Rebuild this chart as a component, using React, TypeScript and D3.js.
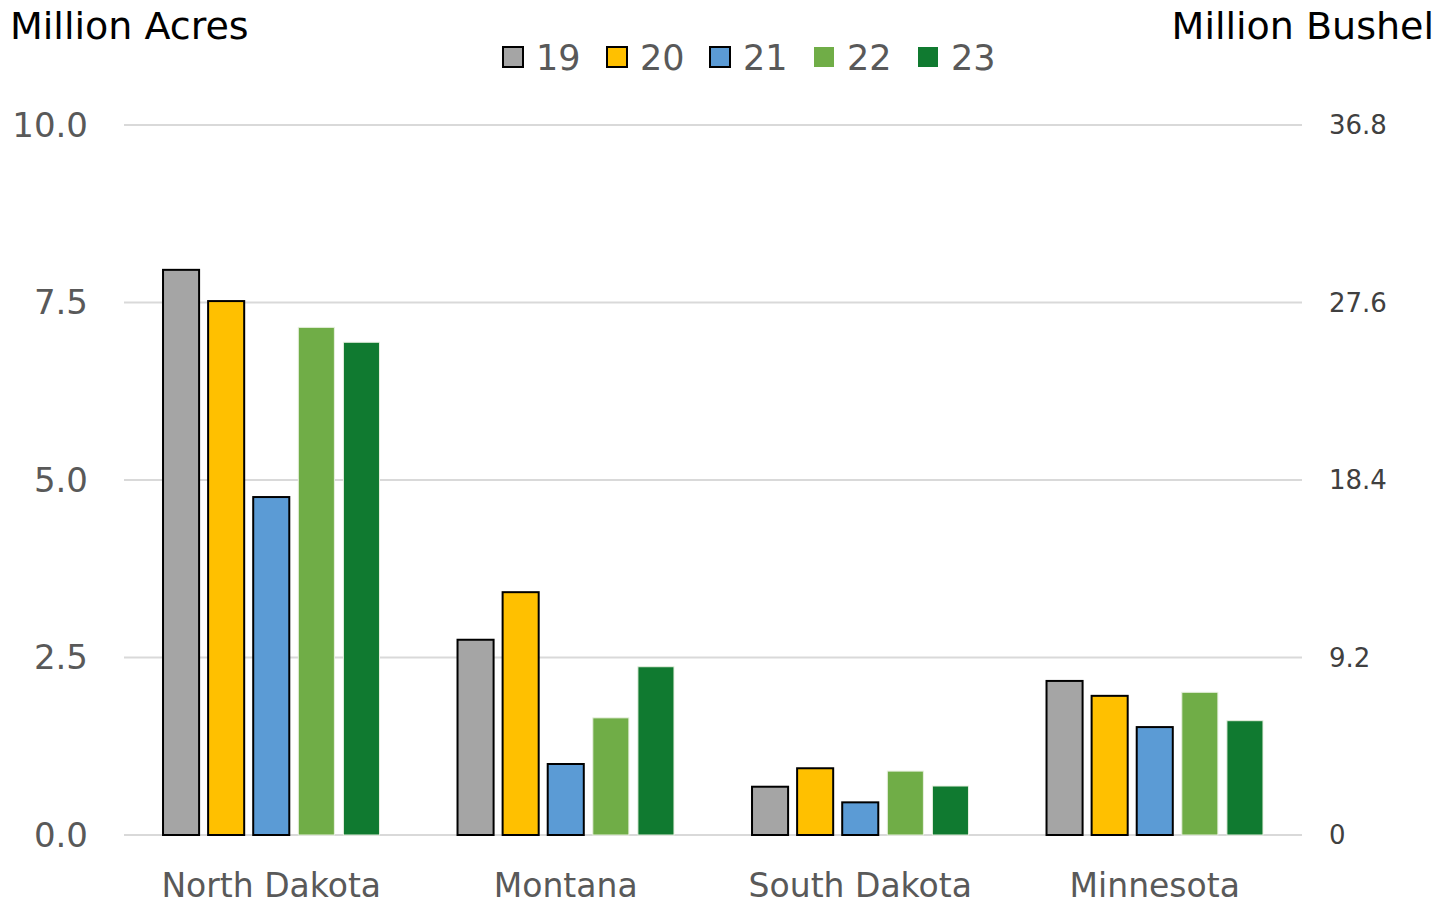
import * as d3 from "d3";

const states = ["North Dakota", "Montana", "South Dakota", "Minnesota"];
const years = ["19", "20", "21", "22", "23"];
const acres: number[][] = [
  [7.96, 7.52, 4.76, 7.15, 6.94],
  [2.75, 3.42, 1.0, 1.65, 2.37],
  [0.68, 0.94, 0.46, 0.9, 0.69],
  [2.17, 1.96, 1.52, 2.01, 1.61],
];
const leftTicks = [0, 2.5, 5, 7.5, 10];
const rightTicks = ["0", "9.2", "18.4", "27.6", "36.8"];

const colors = ["#a5a5a5", "#ffc000", "#5b9bd5", "#70ad47", "#107a30"];
const outlined = [true, true, true, false, false];

const W = 1448;
const H = 905;
const font = "'DejaVu Sans', sans-serif";

export default function App() {
  const left = 124;
  const right = 1302;
  const top = 125;
  const bottom = 835;

  const y = d3.scaleLinear().domain([0, 10]).range([bottom, top]);
  const x0 = d3.scaleBand().domain(states).range([left, right]).paddingInner(0.265).paddingOuter(0.1325);
  const x1 = d3.scaleBand().domain(years).range([0, x0.bandwidth()]).paddingInner(0.2);

  const legendX = [503, 607, 710, 814, 918];

  return (
    <svg
      width={W}
      height={H}
      style={{ position: "absolute", left: 0, top: 0, background: "#fff" }}
      fontFamily={font}
    >
      {/* gridlines */}
      {leftTicks.map((t) => (
        <line
          key={t}
          x1={left}
          x2={right}
          y1={y(t)}
          y2={y(t)}
          stroke="#d9d9d9"
          strokeWidth={2}
        />
      ))}

      {/* bars */}
      {states.map((s, si) => (
        <g key={s} transform={`translate(${x0(s)},0)`}>
          {years.map((yr, yi) => (
            <rect
              key={yr}
              x={x1(yr)}
              y={y(acres[si][yi])}
              width={x1.bandwidth()}
              height={bottom - y(acres[si][yi])}
              fill={colors[yi]}
              stroke={outlined[yi] ? "#000" : "#e8f0e0"}
              strokeWidth={outlined[yi] ? 2 : 1}
            />
          ))}
        </g>
      ))}

      {/* left axis labels */}
      {leftTicks.map((t) => (
        <text
          key={t}
          x={88}
          y={y(t)}
          dy="0.35em"
          textAnchor="end"
          fontSize={34}
          fill="#595959"
        >
          {t.toFixed(1)}
        </text>
      ))}

      {/* right axis labels */}
      {rightTicks.map((t, i) => (
        <text
          key={t}
          x={1329}
          y={y(leftTicks[i])}
          dy="0.35em"
          fontSize={26}
          fill="#404040"
        >
          {t}
        </text>
      ))}

      {/* category labels */}
      {states.map((s) => (
        <text
          key={s}
          x={(x0(s) ?? 0) + x0.bandwidth() / 2}
          y={885}
          dy="0.35em"
          textAnchor="middle"
          fontSize={33}
          fill="#595959"
        >
          {s}
        </text>
      ))}

      {/* axis titles */}
      <text x={10} y={39} fontSize={38} fill="#000">
        Million Acres
      </text>
      <text x={1434} y={39} fontSize={38} fill="#000" textAnchor="end">
        Million Bushel
      </text>

      {/* legend */}
      {years.map((yr, i) => (
        <g key={yr} transform={`translate(${legendX[i]},47)`}>
          <rect
            width={20}
            height={20}
            fill={colors[i]}
            stroke={outlined[i] ? "#000" : "none"}
            strokeWidth={2}
          />
          <text x={33} y={10} dy="0.36em" fontSize={35} fill="#595959">
            {yr}
          </text>
        </g>
      ))}
    </svg>
  );
}
